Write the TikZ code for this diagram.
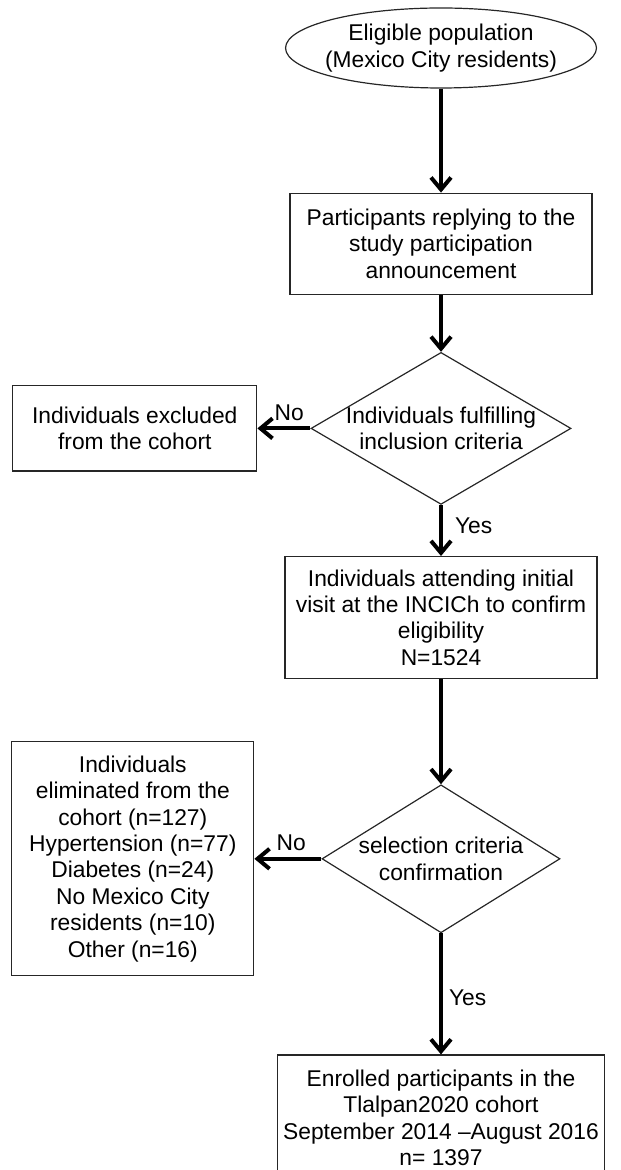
\documentclass[tikz,border=0pt]{standalone}
\usepackage{fontspec}
\setmainfont{Liberation Sans}
\usetikzlibrary{positioning,arrows.meta,shapes.geometric}

\begin{document}
\begin{tikzpicture}[
  font=\fontsize{11.4}{13.2}\selectfont,
  box/.style={draw=black!85, line width=0.6pt, inner sep=3pt, align=center},
  term/.style={ellipse, draw=black!85, line width=0.6pt, inner sep=-3pt, align=center,
               minimum width=152pt, minimum height=40pt},
  dec/.style={diamond, draw=black!85, line width=0.6pt, inner sep=-2pt, shape aspect=1.7,
              align=center},
  arr/.style={-{Straight Barb[length=6pt,width=10pt]}, line width=2pt},
  lbl/.style={inner sep=3pt}]
\useasboundingbox (0,0) rectangle (310pt,-585pt);
\node[term] (pop) at (220.5pt,-24pt) {Eligible population\\ (Mexico City residents)};
\node[box, below=52pt of pop, minimum width=151pt, minimum height=50.5pt] (reply)
  {Participants replying to the\\ study participation\\ announcement};
\node[dec, below=28.5pt of reply, minimum width=130pt, minimum height=76pt] (incl)
  {Individuals fulfilling\\ inclusion criteria};
\node[box, left=26.5pt of incl, minimum width=122pt, minimum height=42.5pt] (excl)
  {Individuals excluded\\ from the cohort};
\node[box, below=25.5pt of incl, minimum width=156pt, minimum height=61pt] (visit)
  {Individuals attending initial\\ visit at the INCICh to confirm\\ eligibility\\ N=1524};
\node[dec, below=52.5pt of visit, minimum width=119pt, minimum height=74pt] (sel)
  {selection criteria\\ confirmation};
\node[box, left=33.5pt of sel, minimum width=121pt, minimum height=117pt] (elim)
  {Individuals\\ eliminated from the\\ cohort (n=127)\\ Hypertension (n=77)\\ Diabetes (n=24)\\ No Mexico City\\ residents (n=10)\\ Other (n=16)};
\node[box, below=60.5pt of sel, minimum width=163.5pt, minimum height=63pt] (enrol)
  {Enrolled participants in the\\ Tlalpan2020 cohort\\ September 2014 –August 2016\\ n= 1397};
\draw[arr] (pop) -- (reply);
\draw[arr] (reply) -- (incl);
\draw[arr] (incl) -- node[lbl, above, pos=0.4] (no1) {No} (excl);
\draw[arr] (incl) -- node[lbl, right, pos=0.4, xshift=3pt] (yes1) {Yes} (visit);
\draw[arr] (visit) -- (sel);
\draw[arr] (sel) -- node[lbl, above, pos=0.45] (no2) {No} (elim);
\draw[arr] (sel) -- node[lbl, right, pos=0.53] (yes2) {Yes} (enrol);
\end{tikzpicture}
\end{document}
